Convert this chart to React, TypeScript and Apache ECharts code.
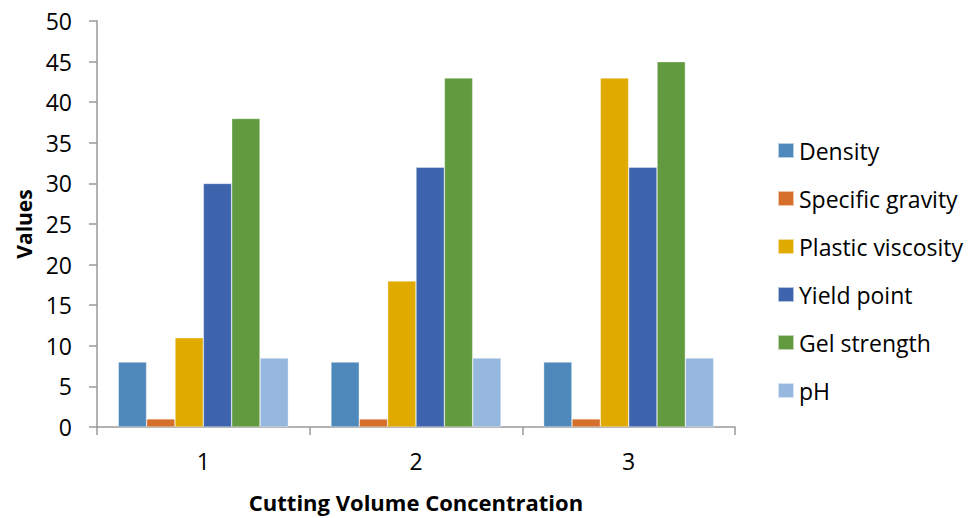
import React, { useEffect, useRef } from "react";
import * as echarts from "echarts";

const categories = ["1", "2", "3"];
const seriesNames = [
  "Density",
  "Specific gravity",
  "Plastic viscosity",
  "Yield point",
  "Gel strength",
  "pH",
];
const density = [8, 8, 8];
const specificGravity = [1, 1, 1];
const plasticViscosity = [11, 18, 43];
const yieldPoint = [30, 32, 32];
const gelStrength = [38, 43, 45];
const ph = [8.5, 8.5, 8.5];
const colors = ["#4F89BC", "#D56F2B", "#E1AA00", "#3D64AC", "#629A3F", "#97B8DE"];

const FONT = "'Open Sans', 'Noto Sans', sans-serif";
const AXIS_GREY = "#9a9a9a";

export default function App() {
  const ref = useRef<HTMLDivElement>(null);

  useEffect(() => {
    if (!ref.current) return;
    const chart = echarts.init(ref.current, null, { renderer: "svg" });
    const values = [density, specificGravity, plasticViscosity, yieldPoint, gelStrength, ph];
    chart.setOption({
      animation: false,
      backgroundColor: "#ffffff",
      textStyle: { fontFamily: FONT },
      grid: { left: 97, top: 21, right: 235, bottom: 90, containLabel: false },
      legend: {
        orient: "vertical",
        left: 777,
        top: 139,
        padding: 0,
        itemWidth: 16,
        itemHeight: 15,
        itemGap: 25,
        icon: "rect",
        textStyle: { fontFamily: FONT, fontSize: 23, color: "#000" },
        data: seriesNames,
      },
      xAxis: {
        type: "category",
        data: categories,
        name: "Cutting Volume Concentration",
        nameLocation: "middle",
        nameGap: 64,
        nameTextStyle: { fontFamily: FONT, fontSize: 22, fontWeight: "bold", color: "#000" },
        axisLine: { lineStyle: { color: AXIS_GREY, width: 1.5 } },
        axisTick: { show: true, length: 8, lineStyle: { color: AXIS_GREY, width: 1.5 } },
        axisLabel: { fontFamily: FONT, fontSize: 23, color: "#000", margin: 22 },
      },
      yAxis: {
        type: "value",
        min: 0,
        max: 50,
        interval: 5,
        name: "Values",
        nameLocation: "middle",
        nameGap: 63,
        nameTextStyle: { fontFamily: FONT, fontSize: 21, fontWeight: "bold", color: "#000" },
        axisLine: { show: true, lineStyle: { color: AXIS_GREY, width: 1.5 } },
        axisTick: { show: true, length: 8, lineStyle: { color: AXIS_GREY, width: 1.5 } },
        splitLine: { show: false },
        axisLabel: { fontFamily: FONT, fontSize: 23, color: "#000", margin: 25 },
      },
      series: seriesNames.map((name, i) => ({
        name,
        type: "bar",
        data: values[i],
        barGap: "0%",
        barCategoryGap: "20%",
        itemStyle: { color: colors[i], borderColor: "rgba(255,255,255,0.6)", borderWidth: 0.6 },
      })),
    });
    return () => chart.dispose();
  }, []);

  return (
    <div
      ref={ref}
      style={{ position: "fixed", left: 0, top: 0, width: 970, height: 518 }}
    />
  );
}
